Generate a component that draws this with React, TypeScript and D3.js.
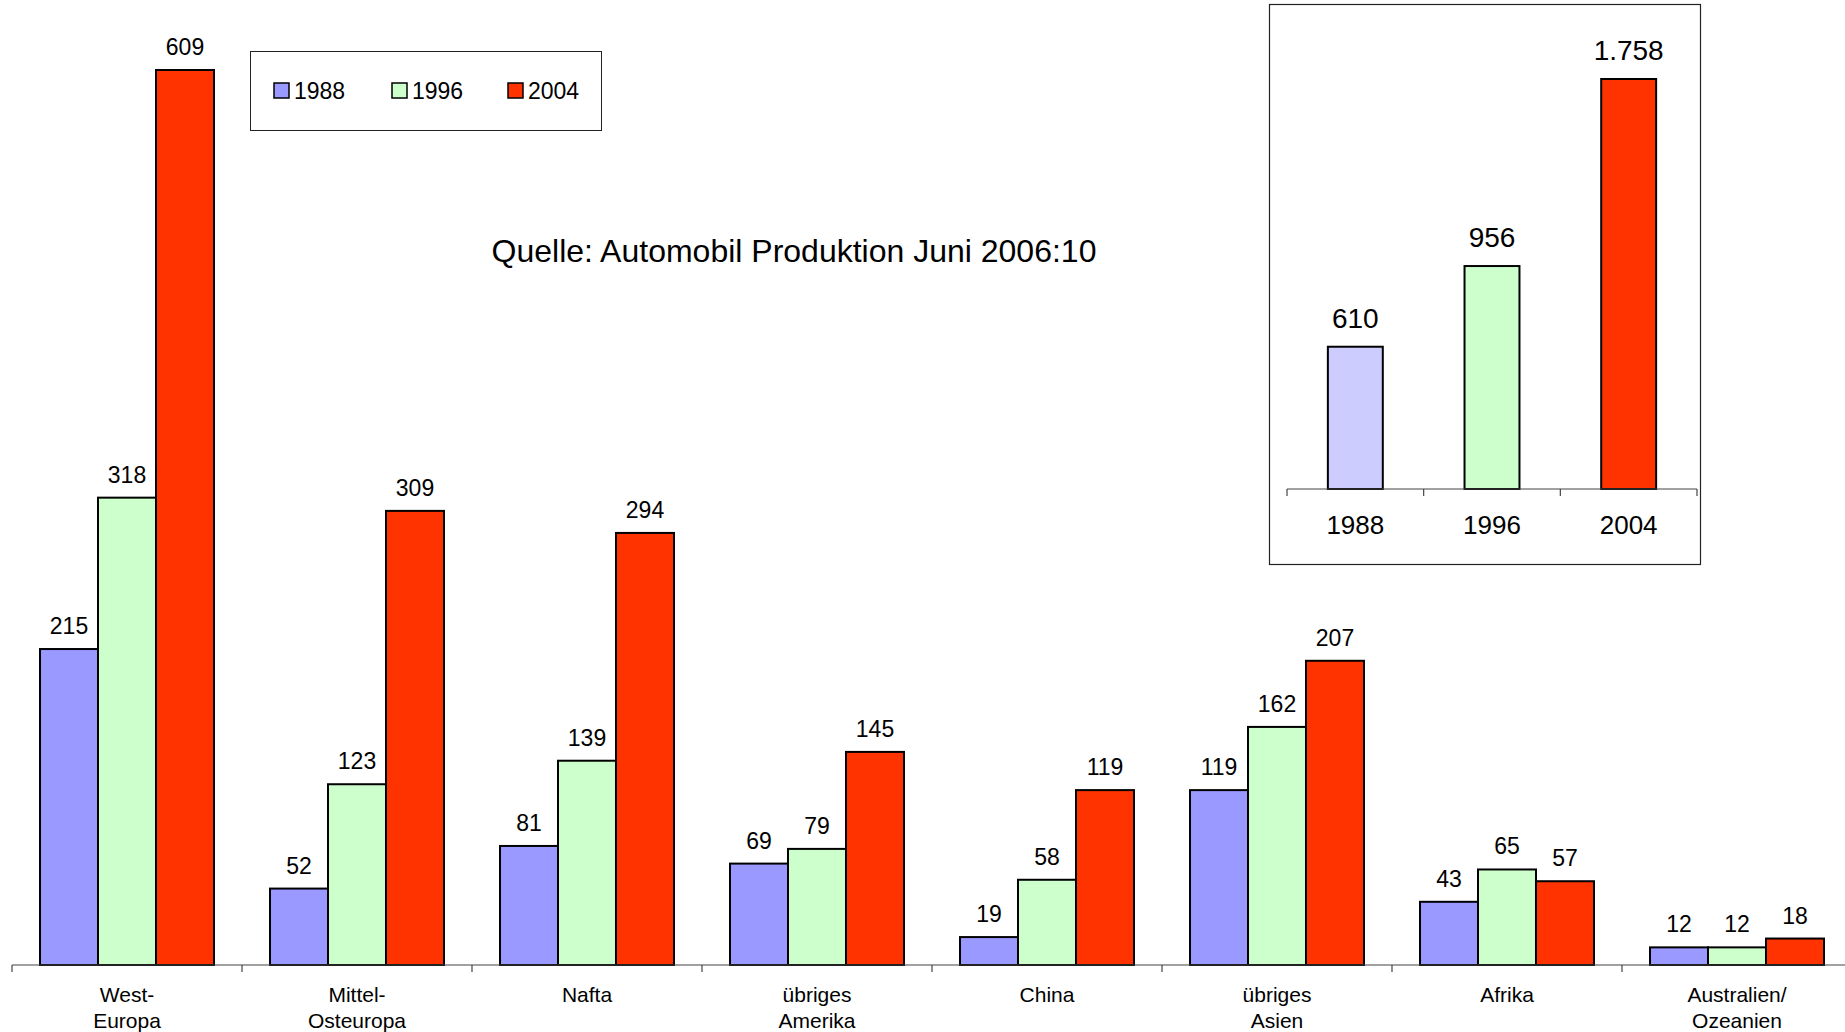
import { useMemo } from "react";
import * as d3 from "d3";

const WIDTH = 1845;
const HEIGHT = 1032;
const FONT = "'Liberation Sans', Arial, sans-serif";

const categories = [
  ["West-", "Europa"],
  ["Mittel-", "Osteuropa"],
  ["Nafta"],
  ["übriges", "Amerika"],
  ["China"],
  ["übriges", "Asien"],
  ["Afrika"],
  ["Australien/", "Ozeanien"],
];
const years = ["1988", "1996", "2004"];
const values1988 = [215, 52, 81, 69, 19, 119, 43, 12];
const values1996 = [318, 123, 139, 79, 58, 162, 65, 12];
const values2004 = [609, 309, 294, 145, 119, 207, 57, 18];
const seriesColors = ["#9999FF", "#CCFFCC", "#FF3300"];

// Summen je Jahr (kleines Diagramm oben rechts)
const totals = [610, 956, 1758];
const totalColors = ["#CCCCFF", "#CCFFCC", "#FF3300"];

const title = "Quelle: Automobil Produktion Juni 2006:10";

const series = [values1988, values1996, values2004];
const catKeys = categories.map((c) => c.join(" "));

const fmtDE = d3.formatLocale({
  decimal: ",",
  thousands: ".",
  grouping: [3],
  currency: ["", "€"],
}).format(",d");

export default function App() {
  const x0 = useMemo(
    () => d3.scaleBand().domain(catKeys).range([12, 12 + 8 * 230]).padding(0),
    []
  );
  const x1 = useMemo(
    () =>
      d3
        .scaleBand()
        .domain(years)
        .range([0, x0.bandwidth()])
        .paddingInner(0)
        .paddingOuter(0.483),
    [x0]
  );
  const y = useMemo(
    () =>
      d3
        .scaleLinear()
        .domain([0, d3.max(series.flat()) as number])
        .range([965, 70]),
    []
  );

  // inset
  const ix = useMemo(
    () =>
      d3
        .scaleBand()
        .domain(years)
        .range([1287, 1697])
        .paddingInner(0.598)
        .paddingOuter(0.299),
    []
  );
  const iy = useMemo(
    () =>
      d3
        .scaleLinear()
        .domain([0, d3.max(totals) as number])
        .range([489, 79]),
    []
  );
  const ixTicks = d3
    .range(years.length + 1)
    .map((i) => 1287 + i * ((1697 - 1287) / years.length));

  return (
    <svg
      width={WIDTH}
      height={HEIGHT}
      style={{ position: "absolute", left: 0, top: 0, background: "#fff" }}
      fontFamily={FONT}
    >
      <rect x={0} y={0} width={WIDTH} height={HEIGHT} fill="#fff" />

      {/* bars */}
      {catKeys.map((key, ci) => (
        <g key={key} transform={`translate(${x0(key)},0)`}>
          {years.map((yr, si) => {
            const v = series[si][ci];
            const bx = x1(yr) as number;
            return (
              <g key={yr}>
                <rect
                  x={bx}
                  y={y(v)}
                  width={x1.bandwidth()}
                  height={y(0) - y(v)}
                  fill={seriesColors[si]}
                  stroke="#000"
                  strokeWidth={2}
                />
                <text
                  x={bx + x1.bandwidth() / 2}
                  y={y(v) - 15}
                  textAnchor="middle"
                  fontSize={23}
                  fill="#000"
                >
                  {v}
                </text>
              </g>
            );
          })}
        </g>
      ))}

      {/* x axis */}
      <line x1={12} x2={12 + 8 * 230} y1={965} y2={965} stroke="#444" strokeWidth={1.2} />
      {d3.range(categories.length + 1).map((i) => (
        <line
          key={i}
          x1={12 + i * x0.step()}
          x2={12 + i * x0.step()}
          y1={965}
          y2={972}
          stroke="#444"
          strokeWidth={1.2}
        />
      ))}
      {categories.map((lines, ci) => (
        <text
          key={ci}
          x={(x0(catKeys[ci]) as number) + x0.bandwidth() / 2}
          y={1002}
          textAnchor="middle"
          fontSize={21}
          fill="#000"
        >
          {lines.map((l, li) => (
            <tspan key={li} x={(x0(catKeys[ci]) as number) + x0.bandwidth() / 2} dy={li === 0 ? 0 : 26}>
              {l}
            </tspan>
          ))}
        </text>
      ))}

      {/* legend */}
      <rect x={250.5} y={51.5} width={351} height={79} fill="#fff" stroke="#222" strokeWidth={1} />
      {years.map((yr, i) => {
        const lx = [274, 392, 508][i];
        return (
          <g key={yr}>
            <rect x={lx} y={83} width={15} height={15} fill={seriesColors[i]} stroke="#000" strokeWidth={1.5} />
            <text x={lx + 20} y={99} fontSize={23} fill="#000">
              {yr}
            </text>
          </g>
        );
      })}

      {/* title */}
      <text x={794} y={262} textAnchor="middle" fontSize={32} fill="#000">
        {title}
      </text>

      {/* inset */}
      <rect x={1269.5} y={4.5} width={431} height={560} fill="#fff" stroke="#222" strokeWidth={1.2} />
      {years.map((yr, i) => {
        const v = totals[i];
        const bx = ix(yr) as number;
        return (
          <g key={yr}>
            <rect
              x={bx}
              y={iy(v)}
              width={ix.bandwidth()}
              height={iy(0) - iy(v)}
              fill={totalColors[i]}
              stroke="#000"
              strokeWidth={2}
            />
            <text x={bx + ix.bandwidth() / 2} y={iy(v) - 19} textAnchor="middle" fontSize={28} fill="#000">
              {fmtDE(v)}
            </text>
            <text x={bx + ix.bandwidth() / 2} y={534} textAnchor="middle" fontSize={26} fill="#000">
              {yr}
            </text>
          </g>
        );
      })}
      <line x1={1287} x2={1697} y1={489} y2={489} stroke="#444" strokeWidth={1.2} />
      {ixTicks.map((t, i) => (
        <line key={i} x1={t} x2={t} y1={489} y2={496} stroke="#444" strokeWidth={1.2} />
      ))}
    </svg>
  );
}
